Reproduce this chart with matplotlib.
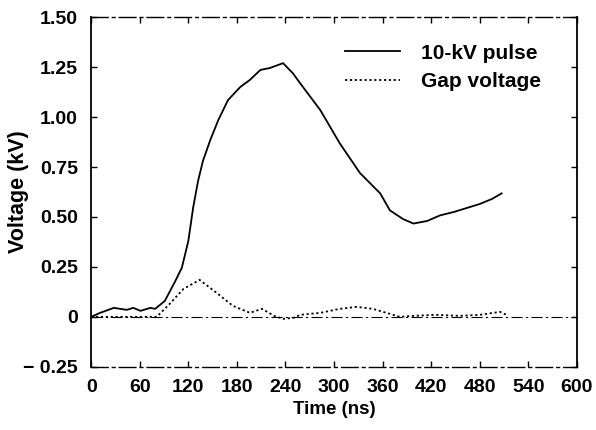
import numpy as np
import matplotlib.pyplot as plt

# 10-kV pulse
t_pulse = [0, 11, 28, 44, 52, 61, 73, 79, 91, 104, 112, 120, 126, 132, 138, 147, 157,
           169, 184, 196, 209, 221, 237, 249, 258, 283, 307, 332, 357, 369, 385, 398,
           415, 431, 448, 464, 480, 495, 507]
v_pulse = [0, 0.02, 0.045, 0.035, 0.045, 0.03, 0.045, 0.04, 0.08, 0.18, 0.246, 0.38,
           0.548, 0.68, 0.78, 0.884, 0.985, 1.085, 1.15, 1.186, 1.236, 1.246, 1.27,
           1.22, 1.17, 1.035, 0.869, 0.72, 0.618, 0.533, 0.49, 0.467, 0.48, 0.508,
           0.525, 0.545, 0.565, 0.59, 0.618]

# gap voltage
t_gap = [0, 40, 81, 97, 114, 134, 155, 175, 196, 211, 226, 237, 250, 258,
         283, 307, 328, 348, 369, 381, 398, 426, 455, 480, 505, 513]
v_gap = [0, 0.0, 0.0, 0.065, 0.14, 0.185, 0.12, 0.055, 0.02, 0.04,
         0.005, -0.01, -0.005, 0.01, 0.02, 0.04, 0.05, 0.04, 0.015, 0.0, 0.005, 0.01,
         0.005, 0.01, 0.025, 0.01]

xticks = [0, 60, 120, 180, 240, 300, 360, 420, 480, 540, 600]
yticks = [-0.25, 0, 0.25, 0.5, 0.75, 1.0, 1.25, 1.5]
ylabels = ['\u2212 0.25', '0', '0.25', '0.50', '0.75', '1.00', '1.25', '1.50']

plt.rcParams['font.family'] = ['Liberation Sans', 'DejaVu Sans']
plt.rcParams['font.weight'] = 'bold'

fig = plt.figure(figsize=(5.96, 4.30), dpi=100)
ax = fig.add_axes([0.153, 0.147, 0.815, 0.813])

ax.plot(t_pulse, v_pulse, color='black', lw=1.3, label='10-kV pulse')
ax.plot(t_gap, v_gap, color='black', lw=1.3, linestyle=(0, (1.2, 1.5)), label='Gap voltage')
ax.axhline(0, color='black', lw=0.8, linestyle=(0, (10, 3, 2, 3)))

ax.set_xlim(0, 600)
ax.set_ylim(-0.25, 1.5)
ax.set_xticks(xticks)
ax.set_xticklabels([str(x) for x in xticks], fontsize=14, fontweight='bold')
ax.set_yticks(yticks)
ax.set_yticklabels(ylabels, fontsize=14, fontweight='bold')
ax.tick_params(direction='in', length=4, width=1, top=True, right=True)
ax.tick_params(axis='x', pad=8.5)
ax.tick_params(axis='y', pad=9.5)

for side in ['top', 'bottom']:
    ax.spines[side].set_linestyle((0, (12, 3, 2, 3)))
    ax.spines[side].set_linewidth(1.0)
for side in ['left', 'right']:
    ax.spines[side].set_linewidth(1.3)

ax.set_xlabel('Time (ns)', fontsize=13.5, fontweight='bold', labelpad=4)
ax.set_ylabel('Voltage (kV)', fontsize=15.5, fontweight='bold')
ax.yaxis.set_label_coords(-0.128, 0.5)

leg = ax.legend(loc='center left', bbox_to_anchor=(0.523, 0.857), frameon=False,
                fontsize=15, handlelength=2.65, handletextpad=1.0, labelspacing=0.45,
                borderpad=0, borderaxespad=0)
for txt in leg.get_texts():
    txt.set_fontweight('bold')

fig.savefig('out.png', dpi=100)
